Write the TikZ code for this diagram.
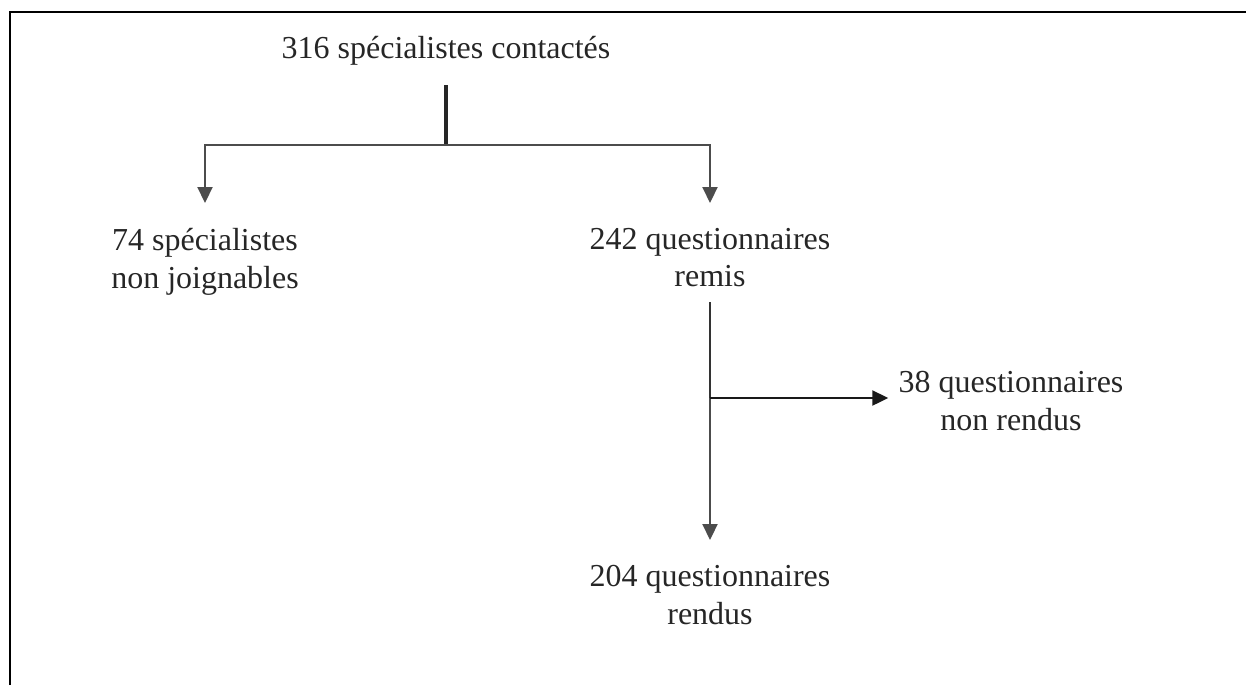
\documentclass[tikz,border=0pt]{standalone}
\usepackage{fontspec}
\setmainfont{Liberation Serif}
\usepackage{tikz}
\usetikzlibrary{arrows.meta}
\tikzstyle{arrow}     = [line width=1.2pt,black!70,-{Triangle[length=0.32cm,width=0.3cm]},shorten >=0.5cm]
\tikzset{every node/.style={align=center}}

\begin{document}
\begin{tikzpicture}[
    link/.style={line width=1.2pt,black!70},
    frame/.style={line width=1.2pt,black},
    lbl/.style={font=\fontsize{18.2}{21.3}\selectfont,text=black!85,inner sep=0pt,anchor=north}
]
  \useasboundingbox (0,0) rectangle (24.92,-13.7);
  % frame
  \draw[frame,line width=0.6pt] (0.2,-0.24) -- (24.92,-0.24);
  \draw[frame] (23.14,-0.24) -- (24.92,-0.24);
  \draw[frame] (0.2,-13.7) -- (0.2,-0.24) -- (0.48,-0.24);

  \node (TOP)  at (8.92,-0.72)  [lbl] {316 spécialistes contactés};
  \node (NJ)   at (4.10,-4.56)  [lbl] {74 spécialistes\\non joignables};
  \node (REM)  at (14.2,-4.56)  [lbl] {242 questionnaires\\remis};
  \node (NR)   at (20.22,-7.42) [lbl] {38 questionnaires\\non rendus};
  \node (REN)  at (14.2,-11.30) [lbl] {204 questionnaires\\rendus};

  \coordinate (stem)   at (8.92,-1.70);
  \coordinate (split)  at (8.92,-2.90);
  \coordinate (drop)   at (14.2,-6.04);
  \coordinate (branch) at (14.2,-7.96);

  \draw[link,line width=1.8pt,black!85] (stem) -- (split);
  \draw[arrow] (split) -| (NJ);
  \draw[arrow] (split) -| (REM);
  \draw[link,black!80] (drop) -- (branch);
  \draw[arrow] (branch) -- (REN);
  \draw[arrow,black!90,shorten >=0.2cm] (branch) -- (branch -| NR.west);
\end{tikzpicture}
\end{document}
